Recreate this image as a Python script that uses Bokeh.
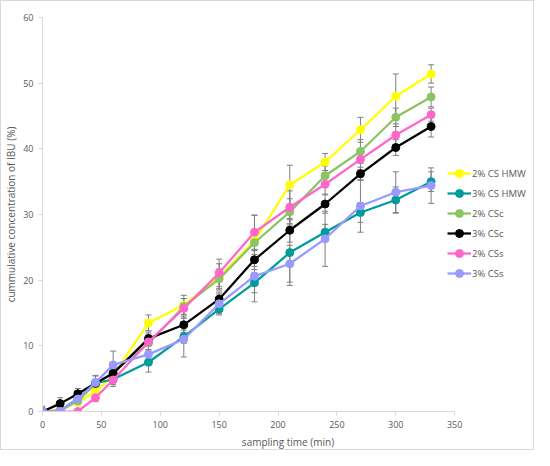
from bokeh.plotting import figure
from bokeh.models import Range1d, ColumnDataSource, Whisker, TeeHead, Legend, FixedTicker
from bokeh.embed import file_html
from bokeh.resources import INLINE

t = [0, 15, 30, 45, 60, 90, 120, 150, 180, 210, 240, 270, 300, 330]

names = ["2% CS HMW", "3% CS HMW", "2% CSc", "3% CSc", "2% CSs", "3% CSs"]

cs2_hmw = [0, 0.2, 1.4, 3.0, 5.5, 13.5, 16.2, 20.5, 26.0, 34.5, 38.0, 42.9, 48.0, 51.4]
cs3_hmw = [0, 0.1, 2.0, 4.3, 4.9, 7.5, 11.4, 15.6, 19.6, 24.2, 27.3, 30.3, 32.2, 35.0]
csc2 = [0, 0.2, 1.6, 4.2, 6.0, 10.4, 16.0, 20.2, 25.7, 30.4, 35.9, 39.6, 44.8, 47.9]
csc3 = [0, 1.2, 2.7, 4.3, 5.8, 11.1, 13.2, 17.1, 23.1, 27.6, 31.6, 36.2, 40.2, 43.4]
css2 = [0, 0, 0, 2.1, 4.8, 10.6, 15.7, 21.1, 27.3, 31.1, 34.6, 38.4, 42.1, 45.2]
css3 = [0, 0, 1.9, 4.4, 7.1, 8.7, 11.0, 16.4, 20.6, 22.5, 26.3, 31.3, 33.4, 34.4]

err_cs2_hmw = [0.3, 0.5, 0.5, 0.8, 1.0, 1.2, 1.5, 2.0, 3.9, 3.0, 1.3, 1.9, 3.4, 1.4]
err_cs3_hmw = [0.2, 0.3, 0.5, 0.6, 0.8, 1.5, 1.0, 0.9, 1.5, 5.0, 1.2, 1.5, 2.0, 1.5]
err_csc2 = [0.2, 0.3, 0.6, 0.7, 1.0, 1.0, 1.2, 1.5, 1.8, 2.0, 1.5, 1.8, 1.4, 1.5]
err_csc3 = [0.8, 0.9, 0.8, 1.2, 1.0, 1.0, 1.2, 1.1, 1.5, 1.8, 1.4, 1.0, 1.2, 1.6]
err_css2 = [0.2, 0.2, 0.2, 0.6, 1.0, 1.2, 1.5, 2.1, 2.6, 2.5, 1.5, 1.6, 1.7, 1.0]
err_css3 = [0.2, 0.3, 0.6, 1.0, 2.1, 1.5, 2.7, 1.5, 3.9, 2.8, 4.2, 4.0, 3.1, 2.7]

colors = ["#FFFF00", "#009C99", "#8BC462", "#000000", "#FF66CC", "#9999FF"]

series = [cs2_hmw, cs3_hmw, csc2, csc3, css2, css3]
errors = [err_cs2_hmw, err_cs3_hmw, err_csc2, err_csc3, err_css2, err_css3]

x_ticks = [0, 50, 100, 150, 200, 250, 300, 350]
y_ticks = [0, 10, 20, 30, 40, 50, 60]
x_axis_max = 350
y_axis_max = 60

FONT = "Open Sans"
GRAY = "#595959"
AXIS = "#D9D9D9"

p = figure(width=534, height=450, output_backend="svg", toolbar_location=None,
           x_range=Range1d(0, x_axis_max * 492 / 413), y_range=Range1d(0, y_axis_max),
           min_border_left=40, min_border_right=2, min_border_top=16, min_border_bottom=38)
p.styles = {"border": "1px solid #D9D9D9"}
p.outline_line_color = None
p.xgrid.grid_line_color = None
p.ygrid.grid_line_color = None

for ax in (p.xaxis[0], p.yaxis[0]):
    ax.axis_line_color = AXIS
    ax.major_tick_line_color = AXIS
    ax.minor_tick_line_color = None
    ax.major_tick_in = 0
    ax.major_tick_out = 4
    ax.major_label_text_color = GRAY
    ax.major_label_text_font = FONT
    ax.major_label_text_font_size = "9px"
    ax.axis_label_text_color = GRAY
    ax.axis_label_text_font = FONT
    ax.axis_label_text_font_size = "10px"
    ax.axis_label_text_font_style = "normal"

p.xaxis.bounds = (0, x_axis_max)
p.xaxis.ticker = FixedTicker(ticks=x_ticks)
p.yaxis.ticker = FixedTicker(ticks=y_ticks)
p.xaxis.axis_label = "sampling time (min)"
p.yaxis.axis_label = "cummulative concentration of IBU (%)"
p.xaxis.major_label_standoff = 5
p.yaxis.major_label_standoff = 5
p.xaxis.axis_label_standoff = 4
p.yaxis.axis_label_standoff = 2

# error bars first (below lines)
for vals, err in zip(series, errors):
    src = ColumnDataSource(dict(x=t, lo=[v - e for v, e in zip(vals, err)],
                                hi=[v + e for v, e in zip(vals, err)]))
    w = Whisker(source=src, base="x", lower="lo", upper="hi", level="underlay",
                line_color="#7F7F7F", line_width=1,
                upper_head=TeeHead(size=6, line_color="#7F7F7F", line_width=1),
                lower_head=TeeHead(size=6, line_color="#7F7F7F", line_width=1))
    p.add_layout(w)

items = []
for name, vals, col in zip(names, series, colors):
    src = ColumnDataSource(dict(x=t, y=vals))
    l = p.line("x", "y", source=src, line_color=col, line_width=2.25)
    s = p.scatter("x", "y", source=src, size=8, fill_color=col, line_color=col, marker="circle")
    items.append((name, [l, s]))

legend = Legend(items=items, location=(405, 128), padding=0, margin=0, spacing=0,
                label_height=20, glyph_height=20, glyph_width=24, label_standoff=1,
                label_text_font=FONT, label_text_font_size="9.5px", label_text_color=GRAY,
                background_fill_alpha=0, border_line_color=None)
p.add_layout(legend, "center")

open("out.html", "w").write(file_html(p, INLINE))
